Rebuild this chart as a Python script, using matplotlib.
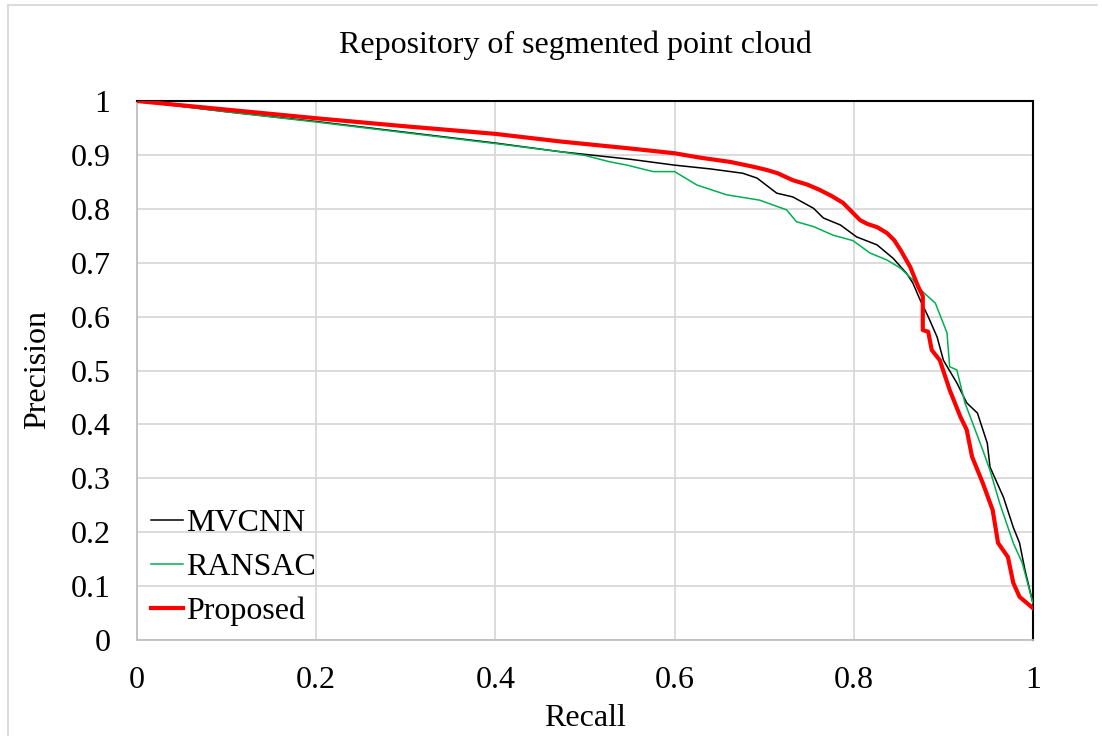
import matplotlib
matplotlib.use("Agg")
import matplotlib.pyplot as plt
from matplotlib.lines import Line2D

plt.rcParams['font.family'] = ['Liberation Serif', 'DejaVu Serif']

title = "Repository of segmented point cloud"
x_label = "Recall"
y_label = "Precision"
series_names = ["MVCNN", "RANSAC", "Proposed"]

mvcnn_recall = [0, 0.1, 0.2, 0.3, 0.4, 0.472, 0.55, 0.6, 0.64, 0.676, 0.692, 0.714, 0.732, 0.755,
                0.766, 0.785, 0.803, 0.826, 0.844, 0.859, 0.866, 0.874, 0.883, 0.893, 0.9, 0.915,
                0.926, 0.938, 0.949, 0.952, 0.967, 0.978, 0.985, 0.991, 1.0]
mvcnn_precision = [1.0, 0.98, 0.962, 0.942, 0.922, 0.906, 0.892, 0.881, 0.874, 0.866, 0.857, 0.829,
                   0.822, 0.801, 0.783, 0.77, 0.748, 0.733, 0.708, 0.68, 0.662, 0.631, 0.6, 0.562,
                   0.519, 0.477, 0.44, 0.421, 0.365, 0.321, 0.265, 0.209, 0.18, 0.13, 0.068]

ransac_recall = [0, 0.1, 0.2, 0.3, 0.4, 0.472, 0.5, 0.528, 0.547, 0.576, 0.6, 0.625, 0.658, 0.695,
                 0.725, 0.736, 0.755, 0.777, 0.799, 0.818, 0.837, 0.852, 0.866, 0.877, 0.891, 0.904,
                 0.907, 0.915, 0.924, 0.93, 0.944, 0.952, 0.963, 0.978, 0.988, 1.0]
ransac_precision = [1.0, 0.98, 0.961, 0.941, 0.921, 0.906, 0.899, 0.887, 0.881, 0.869, 0.869, 0.844,
                    0.826, 0.816, 0.798, 0.776, 0.767, 0.751, 0.741, 0.718, 0.705, 0.69, 0.668,
                    0.646, 0.625, 0.57, 0.507, 0.501, 0.44, 0.414, 0.352, 0.315, 0.253, 0.18,
                    0.143, 0.068]

proposed_recall = [0, 0.1, 0.2, 0.3, 0.4, 0.472, 0.55, 0.6, 0.628, 0.662, 0.688, 0.703, 0.715,
                   0.732, 0.748, 0.762, 0.775, 0.788, 0.807, 0.815, 0.826, 0.837, 0.845, 0.852,
                   0.863, 0.872, 0.877, 0.877, 0.883, 0.887, 0.896, 0.907, 0.919, 0.926, 0.932,
                   0.944, 0.955, 0.961, 0.972, 0.978, 0.985, 1.0]
proposed_precision = [1.0, 0.984, 0.968, 0.953, 0.939, 0.925, 0.912, 0.903, 0.895, 0.887, 0.878,
                      0.872, 0.866, 0.853, 0.845, 0.835, 0.824, 0.811, 0.779, 0.772, 0.766, 0.755,
                      0.742, 0.724, 0.692, 0.655, 0.638, 0.575, 0.572, 0.538, 0.519, 0.464, 0.414,
                      0.39, 0.34, 0.291, 0.241, 0.18, 0.154, 0.106, 0.08, 0.059]

x_ticks = [0, 0.2, 0.4, 0.6, 0.8, 1]
x_ticklabels = ["0", "0.2", "0.4", "0.6", "0.8", "1"]
y_ticks = [0, 0.1, 0.2, 0.3, 0.4, 0.5, 0.6, 0.7, 0.8, 0.9, 1]
y_ticklabels = ["0", "0.1", "0.2", "0.3", "0.4", "0.5", "0.6", "0.7", "0.8", "0.9", "1"]

W, H = 1102, 736
fig = plt.figure(figsize=(W / 100, H / 100), dpi=100)
ax = fig.add_axes([137 / W, 1 - 640 / H, (1033 - 137) / W, (640 - 101) / H])

grid_c = '#d9d9d9'
ax.plot(mvcnn_recall, mvcnn_precision, color='black', lw=1.1, label=series_names[0], zorder=3)
ax.plot(ransac_recall, ransac_precision, color='#00b050', lw=1.1, label=series_names[1], zorder=3)
ax.plot(proposed_recall, proposed_precision, color='#ff0000', lw=3.0, label=series_names[2], zorder=4)

ax.set_xlim(0, 1)
ax.set_ylim(0, 1)
ax.set_xticks(x_ticks)
ax.set_xticklabels(x_ticklabels)
ax.set_yticks(y_ticks)
ax.set_yticklabels(y_ticklabels)
ax.tick_params(length=0, labelsize=23, pad=19)
ax.grid(True, color=grid_c, lw=1.3)
ax.set_axisbelow(True)
for s in ['left', 'bottom']:
    ax.spines[s].set_color('#bfbfbf')
    ax.spines[s].set_linewidth(1.3)
for s in ['top', 'right']:
    ax.spines[s].set_color('black')
    ax.spines[s].set_linewidth(1.5)

fig.text(575 / W, 1 - 45 / H, title, ha='center', va='center', fontsize=23)
fig.text(585 / W, 1 - 718 / H, x_label, ha='center', va='center', fontsize=23)
fig.text(38 / W, 1 - 370 / H, y_label, ha='center', va='center', rotation=90, fontsize=23)

leg = ax.legend(loc='lower left', bbox_to_anchor=(-0.009, -0.015), frameon=False, fontsize=23,
                handlelength=1.0, handletextpad=0.1, labelspacing=0.45, borderaxespad=0.3)

# outer frame lines
fig.add_artist(Line2D([8 / W, 8 / W], [0, 1 - 5 / H], color=grid_c, lw=1.3))
fig.add_artist(Line2D([8 / W, 1 - 5 / W], [1 - 5 / H, 1 - 5 / H], color=grid_c, lw=1.3))

fig.savefig("out.png", dpi=100)
